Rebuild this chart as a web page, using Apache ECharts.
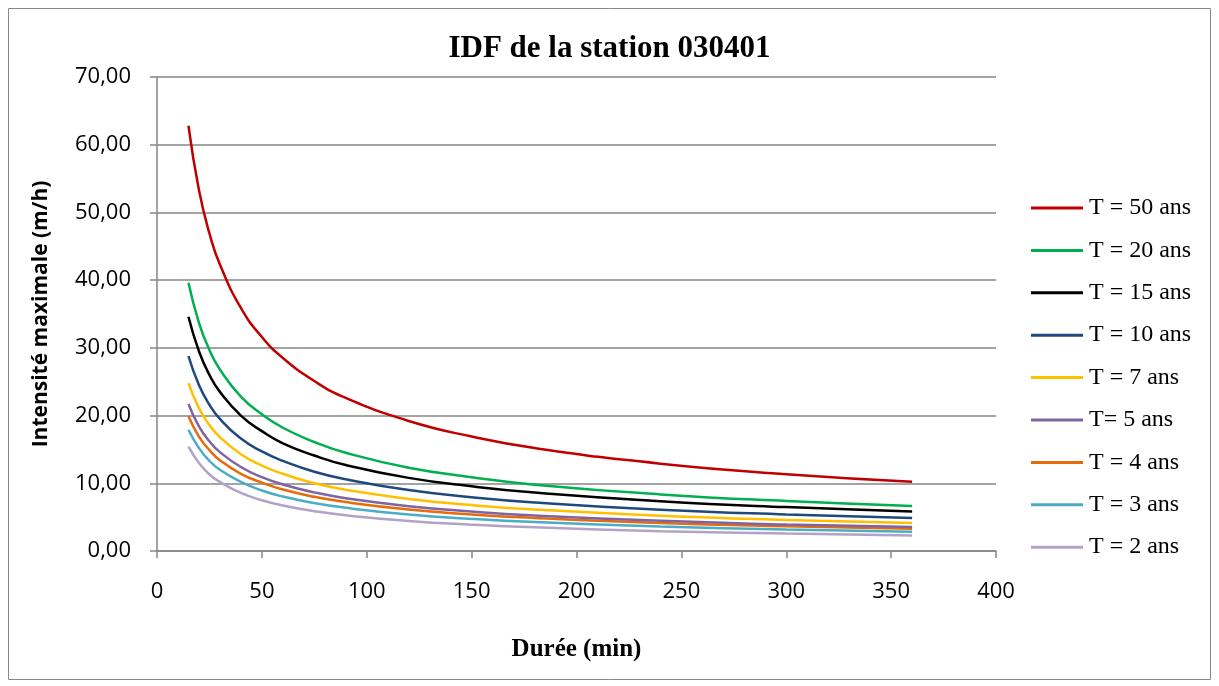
<!DOCTYPE html>
<html><head><meta charset="utf-8">
<script src="https://cdn.jsdelivr.net/npm/echarts@6/dist/echarts.min.js"></script>
<style>html,body{margin:0;padding:0;background:#fff}#c{width:1219px;height:686px}</style>
</head><body><div id="c"></div>
<script>
var durations = [15, 20, 25, 30, 40, 50, 60, 75, 90, 120, 150, 180, 240, 300, 360];
var T50 = [62.8, 53.3, 46.9, 42.3, 35.9, 31.6, 28.5, 25.1, 22.6, 19.2, 16.9, 15.2, 12.9, 11.35, 10.23];
var T20 = [39.6, 33.7, 29.7, 26.8, 22.8, 20.2, 18.2, 16.1, 14.5, 12.3, 10.9, 9.8, 8.36, 7.38, 6.66];
var T15 = [34.6, 29.5, 26.0, 23.5, 20.0, 17.7, 15.9, 14.1, 12.7, 10.8, 9.55, 8.63, 7.35, 6.48, 5.85];
var T10 = [28.8, 24.5, 21.6, 19.5, 16.6, 14.7, 13.3, 11.7, 10.6, 9.0, 7.95, 7.18, 6.11, 5.40, 4.87];
var T7 = [24.8, 21.1, 18.6, 16.8, 14.3, 12.6, 11.4, 10.0, 9.04, 7.69, 6.78, 6.12, 5.21, 4.59, 4.14];
var T5 = [21.7, 18.4, 16.2, 14.6, 12.4, 10.9, 9.83, 8.66, 7.80, 6.62, 5.83, 5.25, 4.45, 3.92, 3.53];
var T4 = [19.9, 16.9, 14.9, 13.4, 11.4, 10.1, 9.08, 8.0, 7.22, 6.13, 5.40, 4.88, 4.14, 3.65, 3.29];
var T3 = [17.9, 15.2, 13.3, 12.0, 10.2, 8.94, 8.04, 7.07, 6.37, 5.39, 4.74, 4.27, 3.62, 3.18, 2.86];
var T2 = [15.4, 13.0, 11.3, 10.2, 8.57, 7.50, 6.72, 5.88, 5.27, 4.44, 3.89, 3.49, 2.93, 2.57, 2.30];
var names = ['T = 50 ans', 'T = 20 ans', 'T = 15 ans', 'T = 10 ans', 'T = 7 ans', 'T= 5 ans', 'T = 4 ans', 'T = 3 ans', 'T = 2 ans'];
var colors = ['#C00000', '#00B050', '#000000', '#1F497D', '#FFC000', '#8064A2', '#E46C0A', '#4BACC6', '#B3A2C7'];
var allSeries = [T50, T20, T15, T10, T7, T5, T4, T3, T2];

var chart = echarts.init(document.getElementById('c'));
var gridColor = '#868686';
chart.setOption({
  animation: false,
  backgroundColor: '#fff',
  color: colors,
  title: {
    text: 'IDF de la station 030401', left: 'center', top: 28,
    textStyle: {fontFamily: 'Liberation Serif', fontWeight: 'bold', fontSize: 31, color: '#000'}
  },
  graphic: [{type: 'rect', shape: {x: 8.5, y: 8.5, width: 1202, height: 671}, style: {fill: 'none', stroke: '#888', lineWidth: 1}}],
  legend: {
    orient: 'vertical', left: 1031, top: 196, padding: 0, itemWidth: 52, itemHeight: 3, itemGap: 18.4, icon: 'rect',
    data: names,
    textStyle: {fontFamily: 'Liberation Serif', fontSize: 24, color: '#000', padding: [0, 0, 0, 1]}
  },
  grid: {left: 157, right: 223, top: 77, bottom: 135},
  xAxis: {
    type: 'value', min: 0, max: 400, interval: 50,
    name: 'Durée (min)', nameLocation: 'middle', nameGap: 86,
    nameTextStyle: {fontFamily: 'Liberation Serif', fontWeight: 'bold', fontSize: 25, color: '#000'},
    axisLine: {lineStyle: {color: gridColor, width: 1.5}},
    axisTick: {show: true, length: 7, lineStyle: {color: gridColor, width: 1.5}},
    axisLabel: {fontFamily: 'Open Sans', fontSize: 22, color: '#000', margin: 30},
    splitLine: {show: false}
  },
  yAxis: {
    type: 'value', min: 0, max: 70, interval: 10,
    name: 'Intensité maximale (m/h)', nameLocation: 'middle', nameGap: 105, nameRotate: 90,
    nameTextStyle: {fontFamily: 'Open Sans', fontWeight: 'bold', fontSize: 21, color: '#000'},
    axisLine: {show: true, lineStyle: {color: gridColor, width: 1.5}},
    axisTick: {show: true, length: 7, lineStyle: {color: gridColor, width: 1.5}},
    axisLabel: {fontFamily: 'Open Sans', fontSize: 22, color: '#000', margin: 26,
      formatter: function (v) { return v.toFixed(2).replace('.', ','); }},
    splitLine: {show: true, lineStyle: {color: gridColor, width: 1.5}}
  },
  series: allSeries.map(function (vals, i) {
    return {
      name: names[i], type: 'line', smooth: true, showSymbol: false, symbol: 'none',
      lineStyle: {width: 2.5, color: colors[i]},
      itemStyle: {color: colors[i]},
      z: 10 - i,
      data: durations.map(function (d, j) { return [d, vals[j]]; })
    };
  })
});
</script></body></html>
